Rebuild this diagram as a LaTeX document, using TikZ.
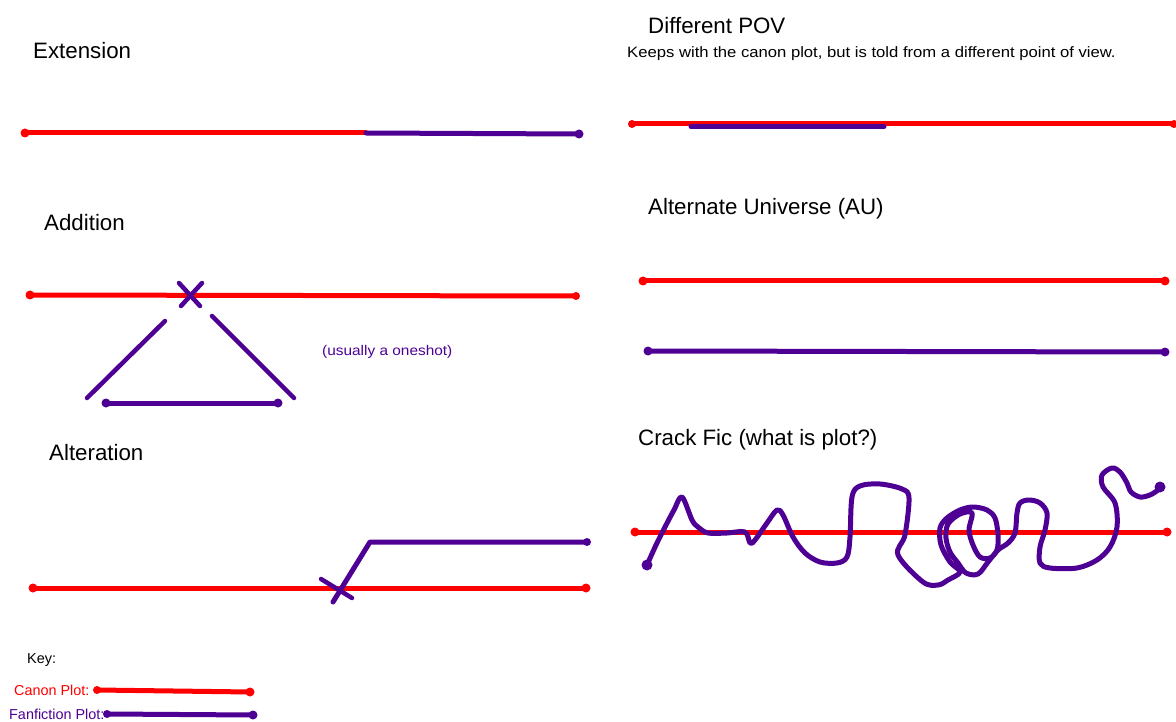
\documentclass[tikz,border=0pt]{standalone}
\usepackage{fontspec}
\setmainfont{Liberation Sans}
\definecolor{canon}{RGB}{255,0,0}
\definecolor{fan}{RGB}{78,0,148}
\begin{document}
\begin{tikzpicture}[x=1pt,y=-1pt,
  canonline/.style={draw=canon,line width=5pt,line cap=round},
  fanline/.style={draw=fan,line width=5pt,line cap=round,line join=round},
  thinfan/.style={draw=fan,line width=4.5pt,line cap=round},
  canondot/.style={fill=canon},
  fandot/.style={fill=fan},
  title/.style={anchor=west,inner sep=0pt,text=black,font=\fontsize{22.3}{25}\selectfont},
  desc/.style={anchor=west,inner sep=0pt,text=black,font=\fontsize{15}{17}\selectfont,xscale=1.11},
  note/.style={anchor=west,inner sep=0pt,text=fan,font=\fontsize{14}{16}\selectfont,xscale=1.1},
  keylabel/.style={anchor=west,inner sep=0pt,font=\fontsize{14.4}{17}\selectfont}]
\useasboundingbox (0,0) rectangle (1176,722);

% ---------- Extension ----------
\node[title] (extT) at (33,51) {Extension};
\coordinate (ex1) at (25,133);
\coordinate (ex2) at (366,133);
\coordinate (ex3) at (579,134);
\draw[canonline] (ex1) -- (ex2);
\draw[fanline] (ex2) -- (ex3);
\fill[canondot] (ex1) circle (4.5pt);
\fill[fandot] (ex3) circle (4.5pt);

% ---------- Addition ----------
\node[title] (addT) at (44,223) {Addition};
\coordinate (ad1) at (30,295);
\coordinate (ad2) at (576,296);
\draw[canonline] (ad1) -- (ad2);
\fill[canondot] (ad1) circle (4.5pt);
\fill[canondot] (ad2) circle (4pt);
\coordinate (axa) at (179,283);
\coordinate (axb) at (200,306);
\coordinate (axc) at (202,283);
\coordinate (axd) at (181,306);
\draw[thinfan] (axa) -- (axb);
\draw[thinfan] (axc) -- (axd);
\coordinate (dl1) at (165,321);
\coordinate (dl2) at (87,398);
\coordinate (dr1) at (212,316);
\coordinate (dr2) at (294,398);
\draw[thinfan] (dl1) -- (dl2);
\draw[thinfan] (dr1) -- (dr2);
\coordinate (ab1) at (106,403);
\coordinate (ab2) at (278,403);
\draw[fanline] (ab1) -- (ab2);
\fill[fandot] (ab1) circle (4.5pt);
\fill[fandot] (ab2) circle (4.5pt);
\node[note] (oneshot) at (322,352) {(usually a oneshot)};

% ---------- Alteration ----------
\node[title] (altT) at (49,453) {Alteration};
\coordinate (al1) at (33,588);
\coordinate (al2) at (586,588);
\draw[canonline] (al1) -- (al2);
\fill[canondot] (al1) circle (4.5pt);
\fill[canondot] (al2) circle (4.5pt);
\coordinate (alx1) at (321,579);
\coordinate (alx2) at (352,598);
\draw[thinfan] (alx1) -- (alx2);
\coordinate (alf1) at (333,602);
\coordinate (alf2) at (370,542);
\coordinate (alf3) at (587,542);
\draw[fanline] (alf1) -- (alf2) -- (alf3);
\fill[fandot] (alf3) circle (4pt);

% ---------- Different POV ----------
\node[title] (povT) at (648,26) {Different POV};
\node[desc] (povD) at (627,54) {Keeps with the canon plot, but is told from a different point of view.};
\coordinate (pv1) at (632,124);
\coordinate (pv2) at (1174,124);
\draw[canonline] (pv1) -- (pv2);
\fill[canondot] (pv1) circle (4pt);
\fill[canondot] (pv2) circle (4pt);
\coordinate (pf1) at (691,126.5);
\coordinate (pf2) at (884,126.5);
\draw[fanline] (pf1) -- (pf2);

% ---------- Alternate Universe ----------
\node[title] (auT) at (648,209) {Alternate Universe (AU)};
\coordinate (au1) at (643,281);
\coordinate (au2) at (1165,281);
\draw[canonline] (au1) -- (au2);
\fill[canondot] (au1) circle (4.5pt);
\fill[canondot] (au2) circle (4.5pt);
\coordinate (au3) at (648,351);
\coordinate (au4) at (1165,352);
\draw[fanline] (au3) -- (au4);
\fill[fandot] (au3) circle (4.5pt);
\fill[fandot] (au4) circle (4.5pt);

% ---------- Crack Fic ----------
\node[title] (crT) at (638,440) {Crack Fic (what is plot?)};
\coordinate (cr1) at (635,532);
\coordinate (cr2) at (1167,532);
\draw[canonline] (cr1) -- (cr2);
\fill[canondot] (cr1) circle (4.5pt);
\fill[canondot] (cr2) circle (4.5pt);
\coordinate (cs) at (647,565);
\coordinate (ce) at (1160,487);
\draw[fanline] plot[smooth,tension=0.55] coordinates {
 (647,565) (656,545) (665,527) (674,510) (682,497) (692,520) (698,527) (708,533)
 (727,533) (745,532) (750,543) (755,540) (767,523) (777,510) (783,515) (793,537)
 (805,553) (820,562) (837,563) (847,557) (850,537) (852,497) (860,486) (880,484)
 (902,489) (909,498) (905,535) (898,555) (923,582) (938,585) (948,580) (960,572)
 (950,562) (941,545) (940,528) (947,518) (960,510) (973,507) (987,510) (995,518)
 (998,535) (997,550) (990,558) (980,557) (973,545) (969,530) (972,513)
 (960,514) (948,524) (946,538) (950,552) (958,563) (966,573) (978,574) (988,562)
 (998,550) (1008,543) (1015,533) (1017,513) (1020,503) (1029,500) (1040,503)
 (1047,513) (1045,530) (1040,547) (1040,563) (1050,568) (1077,568) (1097,560)
 (1110,547) (1117,527) (1115,503) (1103,487) (1102,475) (1112,468) (1120,472)
 (1127,483) (1131,492) (1140,497) (1150,495) (1158,490) (1160,487)};
\fill[fandot] (cs) circle (5.5pt);
\fill[fandot] (ce) circle (5.5pt);

% ---------- Key ----------
\node[keylabel,text=black] (keyT) at (27,660) {Key:};
\node[keylabel,text=canon] (kc) at (14,690) {Canon Plot:};
\node[keylabel,text=fan] (kf) at (9,714) {Fanfiction Plot:};
\coordinate (kc1) at (97,690);
\coordinate (kc2) at (250,692);
\draw[canonline] (kc1) -- (kc2);
\fill[canondot] (kc1) circle (4pt);
\fill[canondot] (kc2) circle (4.5pt);
\coordinate (kf1) at (107,714);
\coordinate (kf2) at (253,715);
\draw[fanline] (kf1) -- (kf2);
\fill[fandot] (kf1) circle (4pt);
\fill[fandot] (kf2) circle (4.5pt);
\end{tikzpicture}
\end{document}
